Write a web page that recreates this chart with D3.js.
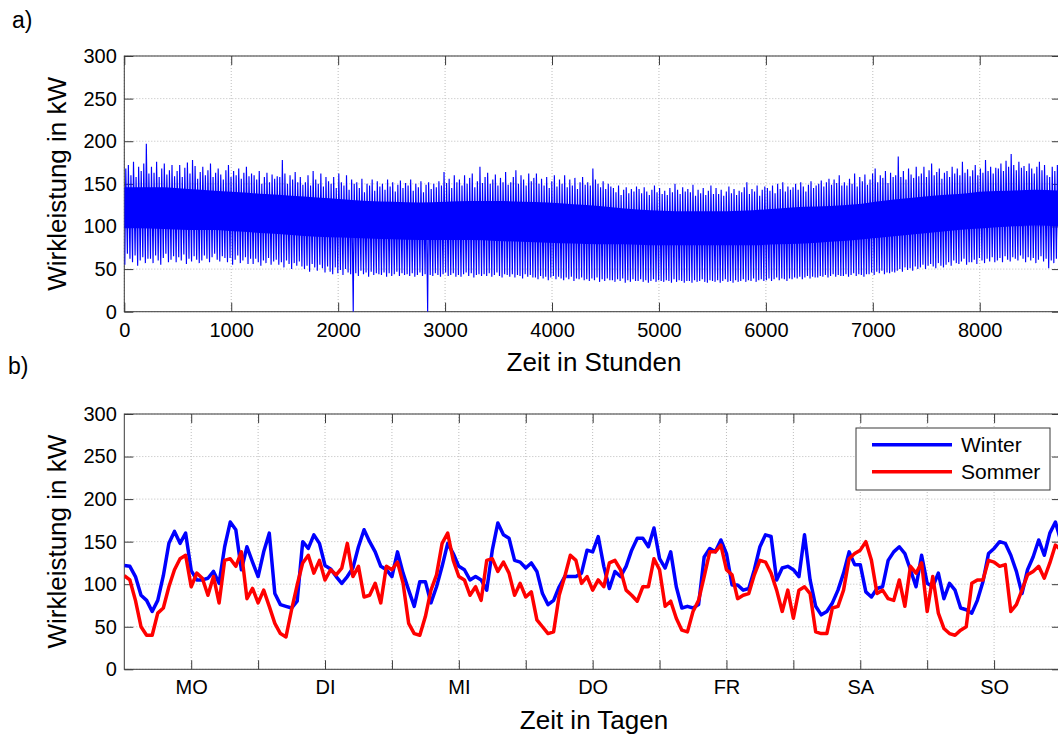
<!DOCTYPE html>
<html>
<head>
<meta charset="utf-8">
<script src="https://cdn.jsdelivr.net/npm/d3@7"></script>
<style>
  body { margin: 0; background: #fff; }
  svg { display: block; font-family: "Liberation Sans", Arial, sans-serif; }
</style>
</head>
<body>
<svg id="chart" width="1058" height="735"></svg>
<script>
// ---- a) annual load: daily extremes (kW), one value per day of the year ----
const dailyHigh = [
  168,172,160,176,158,170,165,174,197,162, 170,163,176,158,168,174,161,166,172,159,
  165,172,158,169,175,162,178,171,156,164, 170,160,166,174,158,163,168,161,155,166,
  172,158,165,160,168,156,163,170,159,162, 160,155,165,150,158,163,152,161,156,159,
  158,178,162,150,160,155,164,152,158,149, 152,160,148,165,155,150,162,147,158,153,
  150,158,145,162,152,148,160,143,155,150, 152,145,156,140,150,148,155,142,153,147,
  150,143,155,147,152,141,149,154,145,151, 148,155,142,150,146,153,140,149,152,144,
  150,146,153,148,164,151,156,145,160,152, 155,148,160,150,157,162,146,153,170,151,
  158,163,150,155,161,148,157,152,164,149, 152,158,166,150,160,155,148,162,153,157,
  162,150,156,148,158,145,153,160,147,155, 150,160,146,155,148,157,144,152,158,149,
  152,148,168,155,150,146,153,144,150,147, 145,140,148,137,143,146,139,144,141,147,
  144,139,146,141,137,143,148,140,145,138, 142,137,145,140,150,143,138,146,141,144,
  140,149,136,143,139,145,137,142,148,138, 145,138,143,136,141,147,139,144,137,142,
  140,146,152,138,144,141,148,136,143,147, 145,142,148,139,150,144,152,141,147,143,
  146,150,143,152,147,141,149,153,145,148, 150,154,147,152,156,149,155,151,160,148,
  152,148,156,150,162,147,158,153,161,149, 155,162,168,152,160,157,165,151,163,158,
  160,182,158,165,155,168,161,157,170,159, 162,170,158,166,174,160,164,168,156,163,
  165,158,170,162,168,160,176,163,167,159, 166,172,160,168,163,178,165,170,162,169,
  168,174,165,177,170,185,172,166,176,169, 171,165,174,168,162,170,176,166,172,160,
  158,170,165,172,168
];
const dailyLow = [
  55,68,62,58,66,54,60,64,57,62, 62,57,66,60,55,63,68,58,61,65,
  58,64,60,67,56,62,59,65,61,57, 60,66,62,58,64,68,61,59,65,63,
  58,63,55,61,66,57,60,64,56,62, 56,62,58,54,60,57,63,55,59,61,
  55,58,52,60,56,50,57,54,59,53, 50,54,47,56,52,48,55,51,46,53,
  47,44,52,45,49,43,50,46,44,0,  45,42,48,44,46,41,47,43,45,44,
  43,46,41,45,42,44,47,42,45,43, 44,42,45,41,43,46,42,44,0,43,
  42,45,43,41,44,46,42,43,45,41, 43,41,44,46,42,45,40,43,44,42,
  44,42,45,41,43,46,42,40,44,43, 41,44,40,43,42,39,44,41,43,40,
  40,38,42,39,41,37,40,42,38,41, 39,37,40,38,41,36,39,38,40,37,
  38,36,39,37,40,35,38,36,39,37, 37,35,38,36,39,34,37,35,38,36,
  36,38,35,37,34,36,38,35,37,36, 35,37,36,34,38,35,37,36,34,36,
  36,34,37,35,36,38,35,34,37,36, 35,37,34,36,38,35,36,34,37,35,
  36,38,35,37,36,39,35,37,38,36, 37,39,36,38,40,37,39,38,36,39,
  38,40,39,41,38,40,42,39,41,40, 40,42,41,43,40,42,44,41,43,42,
  42,44,41,43,45,42,44,43,41,44, 44,46,43,47,45,48,44,46,45,47,
  46,48,50,47,52,49,51,48,53,50, 52,55,50,54,56,53,51,57,54,52,
  55,58,54,60,57,56,59,62,55,58, 58,61,56,63,60,57,62,59,64,58,
  60,63,58,65,61,59,64,62,60,66, 62,58,64,60,63,57,61,65,59,62,
  51,60,57,62,56
];
// typical daytime band (kW), one pair per 10-day block
const bandTop    = [146,146,144,142,140,138,136,134,132,130,129,128,129,130,130,129,128,126,124,121,119,118,118,118,119,121,123,124,126,130,133,136,138,141,142,143,142];
const bandBottom = [ 98, 97, 96, 96, 94, 92, 90, 88, 87, 86, 85, 84, 84, 84, 83, 82, 81, 80, 79, 79, 78, 78, 78, 78, 78, 79, 80, 82, 84, 87, 90, 93, 96, 98,100,101,100];
const hourTicks  = [0,1000,2000,3000,4000,5000,6000,7000,8000];

// ---- b) one week, hourly (kW), Monday 00:00 to Sunday 24:00 ----
const winter = [
  122,121,109, 87, 81, 68, 81,110,148,162,148,160,116,105,105,107,115,101,144,173,164,117,144,126,
  109,138,160, 89, 76, 74, 72, 80,150,142,158,148,122,118,109,101,109,119,144,164,150,138,121,117,
  109,138,113, 93, 74,103,103, 78, 97,121,148,136,121,117,105,109,105, 93,140,172,158,154,128,126,
  119,125,115, 89, 76, 81, 97,109,109,109,113,140,138,156,121, 95,115,109,121,140,154,154,144,166,
  130,119,138, 97, 72, 74, 72, 76,132,142,138,152,136, 99, 99, 93, 95,117,144,158,156,105,119,121,
  117,109,158,105, 74, 64, 68, 78, 93,113,138,123,123, 91, 85, 95, 97,128,138,144,136,117, 97,134,
  101, 97,113, 83,101, 93, 72, 70, 66, 81,103,136,142,150,148,134,115, 89,117,132,152,134,160,173,
  150
];
const sommer = [
  110,105, 81, 50, 40, 40, 66, 72, 97,117,130,134, 97,113,107, 87,109, 78,128,130,121,138, 83, 95,
   78, 93, 74, 54, 42, 38, 70, 99,125,134,113,128,105,117,111,119,148,109,121, 85, 87,101, 78,121,
  117,126,101, 54, 42, 40, 62, 93,111,148,160,128,109,105, 87, 97, 81,128,130,115,126,113, 87,101,
   85, 91, 58, 50, 42, 44, 87,109,134,128,101,109, 93,105, 97,125,128,117, 93, 87, 80, 97, 97,130,
  117, 74, 80, 60, 46, 44, 68, 81,109,138,138,146,117,111, 83, 87, 89,111,128,126,113, 93, 68, 93,
   60, 93, 97, 89, 44, 42, 42, 72, 74, 93,130,136,140,150,128, 89, 93, 83, 81,105, 74,121,113,125,
   68,109, 66, 48, 42, 40, 46, 50,101,105,105,128,126,121,123, 68, 76, 93,111,115,121,107,125,146,
  140
];
const dayLabels  = ["MO","DI","MI","DO","FR","SA","SO"];
const powerTicks = [0,50,100,150,200,250,300];
const seriesNames = ["Winter","Sommer"];
const seriesColors = ["#0000ff","#ff0000"];

// ---- layout ----
const svg = d3.select("#chart");
const plotLeft = 124.3, plotRight = 1061;
const panelA = { top: 56, bottom: 311.7 };
const panelB = { top: 414, bottom: 669.3 };

const xYear = d3.scaleLinear().domain([0, 8760]).range([plotLeft, plotRight]);
const yA = d3.scaleLinear().domain([0, 300]).range([panelA.bottom, panelA.top]);
const xWeek = d3.scaleLinear().domain([0, 168]).range([plotLeft, plotRight]);
const yB = d3.scaleLinear().domain([0, 300]).range([panelB.bottom, panelB.top]);

function drawFrame(id, x, y, panel, xTickVals) {
  const h = panel.bottom - panel.top, w = plotRight - plotLeft;
  const g = svg.append("g").attr("class", "frame-" + id);

  // dotted grid
  const grid = g.append("g").attr("class", "grid");
  grid.selectAll("line.gx").data(xTickVals).join("line")
    .attr("x1", d => x(d)).attr("x2", d => x(d))
    .attr("y1", panel.top).attr("y2", panel.bottom);
  grid.selectAll("line.gy").data(powerTicks).join("line")
    .attr("x1", plotLeft).attr("x2", plotRight)
    .attr("y1", d => y(d)).attr("y2", d => y(d));
  grid.selectAll("line").attr("stroke", "#bdbdbd").attr("stroke-width", 1)
    .attr("stroke-dasharray", "1,2");

  // clip area for data
  svg.append("clipPath").attr("id", "clip-" + id).append("rect")
    .attr("x", plotLeft).attr("y", panel.top).attr("width", w).attr("height", h);
  return g;
}

function drawAxes(g, x, y, panel, xTickVals, xLabelFn) {
  const h = panel.bottom - panel.top, w = plotRight - plotLeft;
  const style = sel => {
    sel.select(".domain").remove();
    sel.selectAll(".tick line").attr("stroke", "#3a3a3a");
    sel.selectAll(".tick text").attr("fill", "#000").attr("font-size", 20)
      .attr("font-family", "Liberation Sans, Arial, sans-serif");
  };
  g.append("g").attr("transform", `translate(0,${panel.bottom})`)
    .call(d3.axisBottom(x).tickValues(xTickVals).tickSizeInner(-9).tickSizeOuter(0)
      .tickPadding(11).tickFormat(xLabelFn)).call(style);
  g.append("g").attr("transform", `translate(0,${panel.top})`)
    .call(d3.axisTop(x).tickValues(xTickVals).tickSizeInner(-9).tickSizeOuter(0)
      .tickFormat("")).call(style);
  g.append("g").attr("transform", `translate(${plotLeft},0)`)
    .call(d3.axisLeft(y).tickValues(powerTicks).tickSizeInner(-9).tickSizeOuter(0)
      .tickPadding(7.5)).call(style);
  g.append("g").attr("transform", `translate(${plotRight},0)`)
    .call(d3.axisRight(y).tickValues(powerTicks).tickSizeInner(-9).tickSizeOuter(0)
      .tickFormat("")).call(style);
  g.append("rect").attr("x", plotLeft).attr("y", panel.top)
    .attr("width", w).attr("height", h)
    .attr("fill", "none").attr("stroke", "#3a3a3a").attr("stroke-width", 1);
}

// ---------- panel a ----------
const gA = drawFrame("a", xYear, yA, panelA, hourTicks);

const bandPts = bandTop.map((t, i) => ({ h: Math.min(i * 240 + 120, 8760), top: t, bot: bandBottom[i] }));
bandPts.unshift({ h: 0, top: bandTop[0], bot: bandBottom[0] });
bandPts.push({ h: 8760, top: bandTop[bandTop.length - 1], bot: bandBottom[bandBottom.length - 1] });

const dataA = svg.append("g").attr("clip-path", "url(#clip-a)");
dataA.append("path")
  .attr("d", d3.area().curve(d3.curveMonotoneX)
    .x(d => xYear(d.h)).y0(d => yA(d.bot)).y1(d => yA(d.top))(bandPts))
  .attr("fill", "#0000ff");

// each day: night minimum, then daytime maximum
const zigzag = [];
dailyLow.forEach((lo, d) => {
  zigzag.push([d * 24 + 5, lo]);
  zigzag.push([d * 24 + 14, dailyHigh[d]]);
});
dataA.append("path")
  .attr("d", d3.line().x(p => xYear(p[0])).y(p => yA(p[1]))(zigzag))
  .attr("fill", "none").attr("stroke", "#0000ff").attr("stroke-width", 1.15);

drawAxes(gA, xYear, yA, panelA, hourTicks, d3.format("d"));

// ---------- panel b ----------
const weekTicks = d3.range(12, 168, 12);
const gB = drawFrame("b", xWeek, yB, panelB, weekTicks);
const dataB = svg.append("g").attr("clip-path", "url(#clip-b)");
const weekLine = d3.line().x((v, i) => xWeek(i)).y(v => yB(v));
[winter, sommer].forEach((series, k) => {
  dataB.append("path").attr("d", weekLine(series))
    .attr("fill", "none").attr("stroke", seriesColors[k])
    .attr("stroke-width", 3.5).attr("stroke-linejoin", "round");
});
drawAxes(gB, xWeek, yB, panelB, weekTicks,
  d => (d / 12) % 2 === 1 ? dayLabels[(d - 12) / 24] : "");

// legend
const lg = svg.append("g").attr("class", "legend");
lg.append("rect").attr("x", 856).attr("y", 428).attr("width", 194).attr("height", 62)
  .attr("fill", "#fff").attr("stroke", "#3a3a3a").attr("stroke-width", 1);
seriesNames.forEach((name, k) => {
  const yy = 444.7 + k * 27;
  lg.append("line").attr("x1", 872).attr("x2", 952).attr("y1", yy).attr("y2", yy)
    .attr("stroke", seriesColors[k]).attr("stroke-width", 3.5);
  lg.append("text").attr("x", 961).attr("y", yy + 7.3).attr("font-size", 21)
    .attr("fill", "#000").text(name);
});

// titles and panel letters
const txt = (x, y, s, size, extra) => {
  const t = svg.append("text").attr("x", x).attr("y", y).attr("font-size", size)
    .attr("fill", "#000").text(s);
  if (extra) extra(t);
  return t;
};
txt(12, 28, "a)", 23);
txt(8, 374, "b)", 23);
txt(594, 371, "Zeit in Stunden", 26, t => t.attr("text-anchor", "middle"));
txt(594, 729, "Zeit in Tagen", 26, t => t.attr("text-anchor", "middle"));
txt(0, 0, "Wirkleistung in kW", 26, t => t.attr("text-anchor", "middle")
  .attr("transform", `translate(66,${(panelA.top + panelA.bottom) / 2}) rotate(-90)`));
txt(0, 0, "Wirkleistung in kW", 26, t => t.attr("text-anchor", "middle")
  .attr("transform", `translate(66,${(panelB.top + panelB.bottom) / 2}) rotate(-90)`));
</script>
</body>
</html>
